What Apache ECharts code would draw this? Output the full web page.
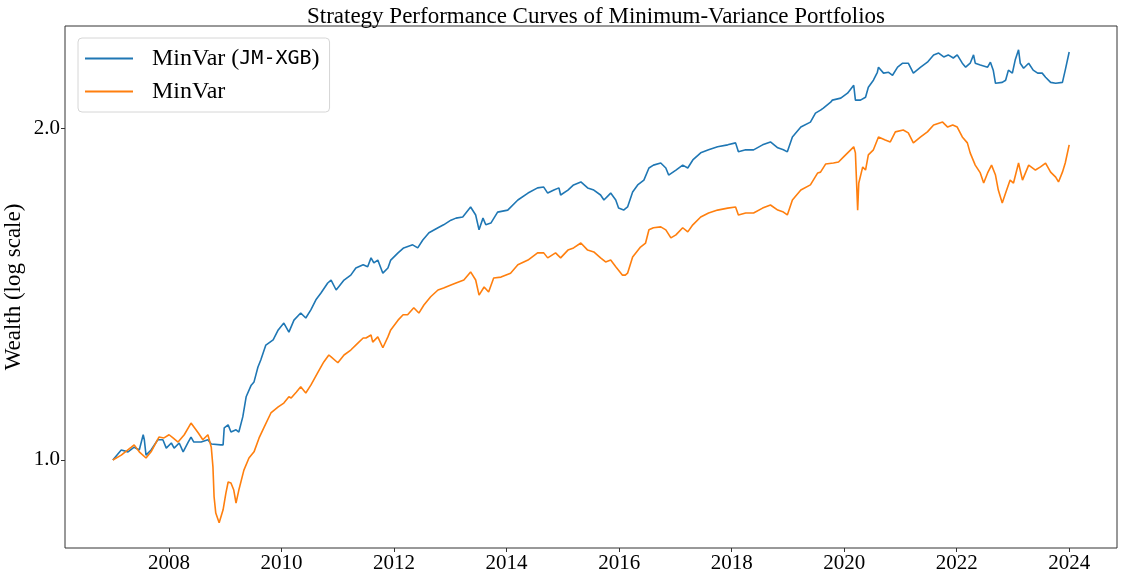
<!DOCTYPE html>
<html>
<head>
<meta charset="utf-8">
<script src="https://cdn.jsdelivr.net/npm/echarts@6/dist/echarts.min.js"></script>
<style>
html,body{margin:0;padding:0;background:#fff;}
#chart{width:1123px;height:581px;}
</style>
</head>
<body>
<div id="chart"></div>
<script>
// ---- data ----
const xTicks = [2008, 2010, 2012, 2014, 2016, 2018, 2020, 2022, 2024];
const yTicks = [1.0, 2.0];

const jmT = [2007.0,2007.15,2007.27,2007.38,2007.47,2007.54,2007.56,2007.59,2007.68,2007.80,2007.89,2007.95,2008.04,2008.09,2008.18,2008.25,2008.34,2008.39,2008.44,2008.57,2008.69,2008.75,2008.92,2008.96,2008.98,2009.05,2009.10,2009.19,2009.24,2009.31,2009.37,2009.46,2009.51,2009.58,2009.63,2009.72,2009.85,2009.94,2010.04,2010.13,2010.22,2010.34,2010.43,2010.52,2010.61,2010.70,2010.82,2010.88,2010.97,2011.11,2011.23,2011.32,2011.45,2011.53,2011.59,2011.64,2011.71,2011.80,2011.89,2011.94,2012.07,2012.17,2012.33,2012.42,2012.51,2012.62,2012.78,2012.88,2013.01,2013.10,2013.22,2013.36,2013.45,2013.51,2013.58,2013.63,2013.72,2013.84,2014.02,2014.20,2014.38,2014.55,2014.66,2014.73,2014.84,2014.93,2014.96,2015.09,2015.19,2015.32,2015.44,2015.55,2015.67,2015.73,2015.85,2015.94,2015.99,2016.08,2016.15,2016.24,2016.33,2016.44,2016.53,2016.61,2016.74,2016.83,2016.88,2017.01,2017.13,2017.22,2017.31,2017.45,2017.59,2017.75,2017.93,2018.07,2018.12,2018.25,2018.39,2018.55,2018.69,2018.82,2018.92,2018.99,2019.08,2019.23,2019.40,2019.49,2019.58,2019.63,2019.76,2019.79,2019.94,2020.06,2020.17,2020.20,2020.29,2020.38,2020.43,2020.52,2020.59,2020.61,2020.70,2020.79,2020.86,2020.95,2021.04,2021.14,2021.23,2021.36,2021.48,2021.59,2021.68,2021.77,2021.85,2021.94,2022.01,2022.10,2022.16,2022.24,2022.30,2022.33,2022.42,2022.55,2022.60,2022.65,2022.69,2022.81,2022.87,2022.92,2022.99,2023.04,2023.10,2023.13,2023.19,2023.28,2023.36,2023.44,2023.52,2023.58,2023.67,2023.76,2023.88,2023.93,2024.0];
const jmV = [1.000,1.021,1.017,1.027,1.021,1.054,1.043,1.010,1.021,1.043,1.043,1.025,1.036,1.025,1.036,1.017,1.038,1.049,1.038,1.038,1.043,1.034,1.032,1.032,1.069,1.076,1.060,1.065,1.060,1.094,1.141,1.169,1.177,1.214,1.232,1.271,1.285,1.312,1.331,1.306,1.339,1.359,1.345,1.368,1.397,1.417,1.447,1.456,1.426,1.456,1.471,1.493,1.503,1.497,1.525,1.509,1.518,1.477,1.493,1.518,1.541,1.557,1.567,1.557,1.583,1.607,1.624,1.634,1.650,1.657,1.661,1.696,1.668,1.617,1.657,1.634,1.640,1.678,1.685,1.721,1.746,1.765,1.768,1.746,1.757,1.765,1.739,1.757,1.776,1.787,1.765,1.757,1.739,1.721,1.746,1.721,1.692,1.685,1.696,1.750,1.776,1.794,1.840,1.851,1.859,1.840,1.813,1.832,1.851,1.840,1.871,1.899,1.911,1.923,1.931,1.939,1.903,1.911,1.911,1.931,1.943,1.919,1.911,1.903,1.963,2.004,2.025,2.063,2.076,2.085,2.111,2.120,2.129,2.151,2.187,2.120,2.120,2.133,2.178,2.210,2.247,2.271,2.243,2.247,2.233,2.271,2.290,2.290,2.243,2.271,2.295,2.330,2.339,2.320,2.330,2.315,2.330,2.290,2.271,2.290,2.330,2.290,2.281,2.271,2.295,2.257,2.196,2.200,2.210,2.257,2.243,2.305,2.355,2.290,2.266,2.290,2.257,2.243,2.243,2.224,2.200,2.196,2.200,2.257,2.344];

const mvT = [2007.0,2007.15,2007.33,2007.38,2007.47,2007.59,2007.68,2007.82,2007.91,2008.0,2008.07,2008.16,2008.27,2008.39,2008.52,2008.60,2008.69,2008.75,2008.78,2008.80,2008.83,2008.89,2008.96,2009.01,2009.05,2009.10,2009.15,2009.19,2009.24,2009.33,2009.42,2009.51,2009.60,2009.69,2009.81,2009.94,2010.04,2010.13,2010.17,2010.26,2010.34,2010.43,2010.52,2010.65,2010.75,2010.84,2010.88,2011.00,2011.11,2011.23,2011.36,2011.45,2011.50,2011.59,2011.62,2011.71,2011.80,2011.89,2011.94,2012.07,2012.16,2012.24,2012.35,2012.44,2012.53,2012.65,2012.78,2012.88,2013.01,2013.10,2013.24,2013.36,2013.45,2013.51,2013.60,2013.68,2013.77,2013.90,2014.07,2014.20,2014.38,2014.55,2014.66,2014.73,2014.87,2014.96,2015.09,2015.19,2015.32,2015.44,2015.55,2015.67,2015.76,2015.85,2015.94,2016.06,2016.11,2016.15,2016.24,2016.38,2016.47,2016.53,2016.61,2016.74,2016.83,2016.92,2017.01,2017.13,2017.22,2017.31,2017.45,2017.59,2017.75,2017.93,2018.07,2018.12,2018.25,2018.39,2018.55,2018.69,2018.82,2018.92,2018.99,2019.08,2019.23,2019.40,2019.53,2019.58,2019.67,2019.81,2019.90,2019.99,2020.08,2020.17,2020.20,2020.24,2020.26,2020.33,2020.38,2020.43,2020.52,2020.61,2020.73,2020.82,2020.91,2021.05,2021.14,2021.23,2021.36,2021.48,2021.59,2021.75,2021.84,2021.93,2022.01,2022.10,2022.19,2022.24,2022.33,2022.42,2022.48,2022.55,2022.62,2022.69,2022.74,2022.81,2022.87,2022.95,2023.01,2023.10,2023.17,2023.28,2023.40,2023.49,2023.58,2023.67,2023.76,2023.81,2023.88,2023.93,2024.0];
const mvV = [1.000,1.010,1.027,1.032,1.017,1.004,1.017,1.049,1.047,1.054,1.047,1.038,1.054,1.080,1.058,1.043,1.054,1.027,0.985,0.926,0.895,0.877,0.901,0.933,0.955,0.953,0.939,0.914,0.939,0.979,1.004,1.017,1.047,1.071,1.103,1.117,1.126,1.141,1.138,1.152,1.165,1.150,1.169,1.202,1.227,1.245,1.240,1.225,1.245,1.258,1.277,1.290,1.290,1.298,1.279,1.293,1.264,1.293,1.312,1.339,1.354,1.354,1.374,1.359,1.382,1.406,1.426,1.432,1.441,1.447,1.456,1.481,1.456,1.411,1.435,1.420,1.462,1.465,1.477,1.503,1.518,1.541,1.541,1.525,1.541,1.525,1.550,1.557,1.573,1.550,1.544,1.525,1.512,1.518,1.497,1.471,1.471,1.477,1.528,1.560,1.573,1.617,1.624,1.627,1.617,1.590,1.600,1.624,1.610,1.634,1.661,1.675,1.685,1.692,1.696,1.668,1.675,1.675,1.692,1.703,1.685,1.678,1.668,1.721,1.757,1.776,1.821,1.824,1.855,1.859,1.863,1.883,1.903,1.923,1.899,1.685,1.783,1.844,1.832,1.891,1.911,1.963,1.951,1.943,1.984,1.992,1.980,1.939,1.963,1.984,2.013,2.025,2.004,2.013,2.004,1.963,1.939,1.899,1.851,1.821,1.783,1.821,1.851,1.813,1.757,1.710,1.746,1.794,1.783,1.859,1.794,1.851,1.832,1.844,1.859,1.824,1.805,1.787,1.824,1.859,1.931];

const seriesNames = ['MinVar (JM-XGB)', 'MinVar'];
const seriesColors = ['#1f77b4', '#ff7f0e'];

function zip(t, v) { return t.map((x, i) => [x, v[i]]); }

const serif = 'Liberation Serif';
const chart = echarts.init(document.getElementById('chart'));
chart.setOption({
  animation: false,
  backgroundColor: '#fff',
  title: {
    text: 'Strategy Performance Curves of Minimum-Variance Portfolios',
    left: 591, top: 0, textAlign: 'center',
    textStyle: { fontFamily: serif, fontSize: 23, fontWeight: 'normal', color: '#000' }
  },
  grid: { left: 65, right: 6, top: 26, bottom: 33, show: true, borderColor: '#333', borderWidth: 1,
          containLabel: false, outerBoundsMode: 'none' },
  legend: {
    orient: 'vertical', left: 78, top: 38,
    data: seriesNames.map(n => ({ name: n, icon: 'rect' })),
    itemWidth: 48, itemHeight: 2, itemGap: 0,
    padding: [4, 10, 4, 7],
    backgroundColor: '#fff', borderColor: '#d6d6d6', borderWidth: 1, borderRadius: 4,
    formatter: function (name) {
      return name === 'MinVar (JM-XGB)' ? '{g|}MinVar ({m|JM-XGB})' : '{g|}' + name;
    },
    textStyle: {
      fontFamily: serif, fontSize: 24, color: '#000', lineHeight: 33,
      rich: {
        g: { width: 14 },
        m: { fontFamily: 'DejaVu Sans Mono', fontSize: 20, color: '#000' }
      }
    }
  },
  xAxis: {
    type: 'value', min: 2006.15, max: 2024.85,
    axisLine: { show: false },
    splitLine: { show: false },
    axisTick: { show: true, customValues: xTicks, length: 4, lineStyle: { color: '#333' } },
    axisLabel: {
      customValues: xTicks, margin: 5,
      fontFamily: serif, fontSize: 21, color: '#000',
      formatter: v => String(Math.round(v))
    }
  },
  yAxis: {
    type: 'log', logBase: 2, min: 0.832, max: 2.475,
    name: 'Wealth (log scale)', nameLocation: 'middle', nameGap: 40, nameMoveOverlap: false,
    nameTextStyle: { fontFamily: serif, fontSize: 23, color: '#000' },
    axisLine: { show: false },
    splitLine: { show: false },
    minorTick: { show: false },
    axisTick: { show: true, customValues: yTicks, length: 4, lineStyle: { color: '#333' } },
    axisLabel: {
      customValues: yTicks, margin: 5,
      fontFamily: serif, fontSize: 21, color: '#000',
      formatter: v => Number(v).toFixed(1)
    }
  },
  series: [
    { name: seriesNames[0], type: 'line', data: zip(jmT, jmV), showSymbol: false, symbol: 'none',
      color: seriesColors[0], lineStyle: { width: 1.6, color: seriesColors[0] } },
    { name: seriesNames[1], type: 'line', data: zip(mvT, mvV), showSymbol: false, symbol: 'none',
      color: seriesColors[1], lineStyle: { width: 1.6, color: seriesColors[1] } }
  ]
});
</script>
</body>
</html>
